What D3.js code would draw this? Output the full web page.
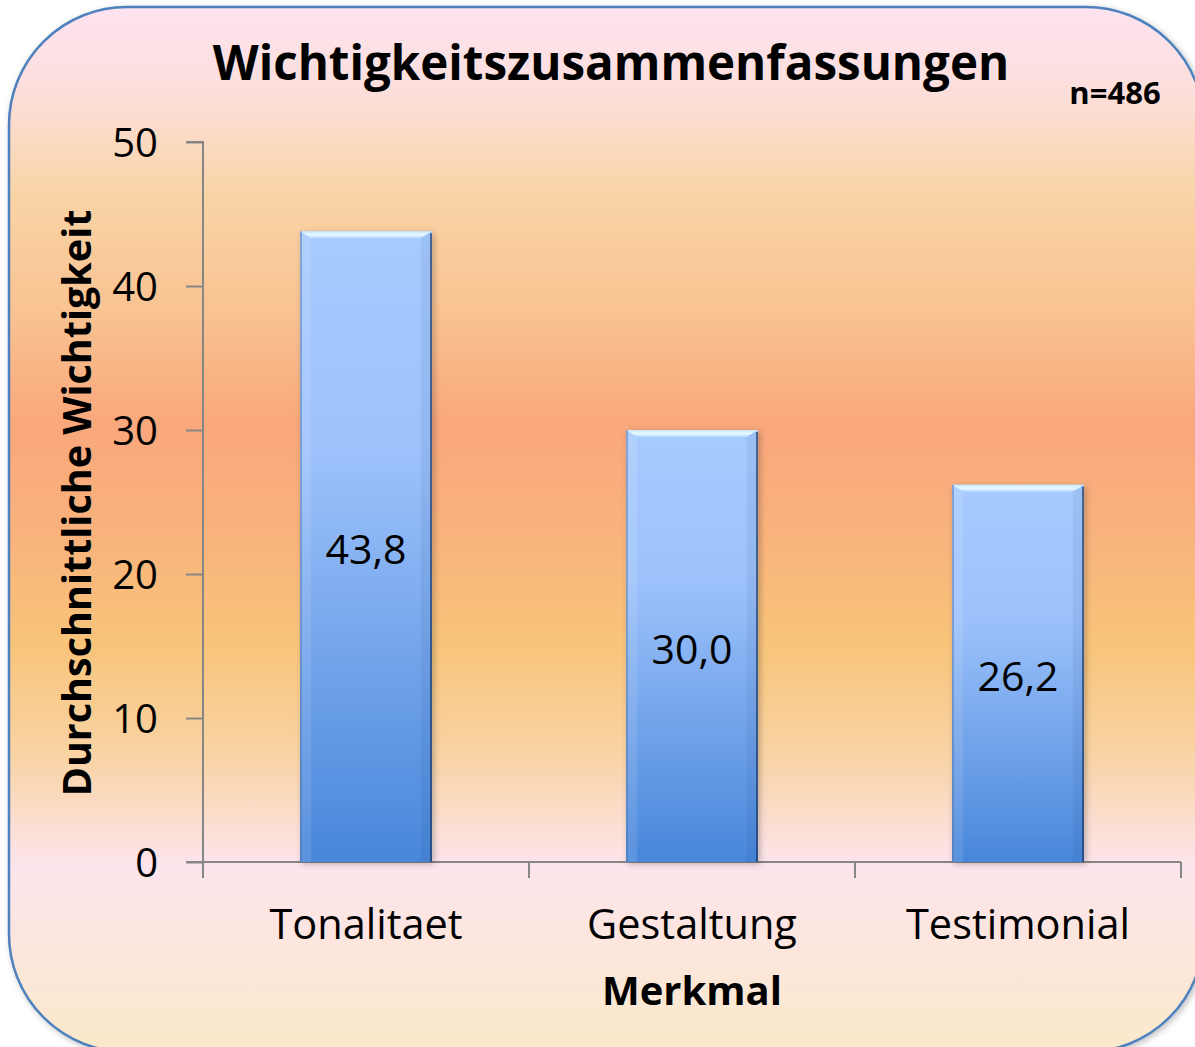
<!DOCTYPE html>
<html>
<head>
<meta charset="utf-8">
<script src="https://cdn.jsdelivr.net/npm/d3@7"></script>
<style>
  html, body { margin: 0; padding: 0; background: #ffffff; }
  svg { display: block; }
  text { font-family: "Open Sans", "Noto Sans", sans-serif; fill: #000; }
</style>
</head>
<body>
<svg id="chart" width="1195" height="1047"></svg>
<script>
// ---- data ----
const categories = ["Tonalitaet", "Gestaltung", "Testimonial"];
const values = [43.8, 30.0, 26.2];
const valueLabels = ["43,8", "30,0", "26,2"];
const yTicks = [0, 10, 20, 30, 40, 50];
const chartTitle = "Wichtigkeitszusammenfassungen";
const sampleNote = "n=486";
const yTitle = "Durchschnittliche Wichtigkeit";
const xTitle = "Merkmal";

const svg = d3.select("#chart");
const defs = svg.append("defs");

// background gradient
const bg = defs.append("linearGradient").attr("id", "bgGrad")
  .attr("x1", 0).attr("y1", 0).attr("x2", 0).attr("y2", 1);
[[0.0, "#fde3f0"], [0.08, "#fcdfdc"], [0.18, "#f9d4a6"], [0.30, "#f9c190"],
 [0.40, "#f9a77b"], [0.50, "#f9b27b"], [0.61, "#f8c47a"], [0.72, "#f9d4a6"],
 [0.82, "#fde4ec"], [1.0, "#fbe9ca"]]
  .forEach(([o, c]) => bg.append("stop").attr("offset", o).attr("stop-color", c));

// bar gradient
const bar = defs.append("linearGradient").attr("id", "barGrad")
  .attr("x1", 0).attr("y1", 0).attr("x2", 0).attr("y2", 1);
[[0, "#a7cbfe"], [0.35, "#9dc2fb"], [1, "#4886da"]]
  .forEach(([o, c]) => bar.append("stop").attr("offset", o).attr("stop-color", c));

const bevel = defs.append("linearGradient").attr("id", "bevelGrad")
  .attr("x1", 0).attr("y1", 0).attr("x2", 0).attr("y2", 1);
[[0, "#c8e6ff"], [0.5, "#e8fbff"], [1, "#b6d8ff"]]
  .forEach(([o, c]) => bevel.append("stop").attr("offset", o).attr("stop-color", c));

const shadow = defs.append("filter").attr("id", "shadow")
  .attr("x", "-10%").attr("y", "-10%").attr("width", "120%").attr("height", "120%");
shadow.append("feDropShadow").attr("dx", 2).attr("dy", 2).attr("stdDeviation", 3)
  .attr("flood-color", "#000").attr("flood-opacity", 0.25);

// rounded background frame
svg.append("rect")
  .attr("x", 9).attr("y", 7).attr("width", 1195).attr("height", 1045)
  .attr("rx", 118).attr("ry", 118)
  .attr("fill", "url(#bgGrad)")
  .attr("stroke", "#4f81bd").attr("stroke-width", 2.5)
  .attr("filter", "url(#shadow)");

// scales
const x = d3.scaleBand().domain(categories).range([203, 1181])
  .paddingInner(0.595).paddingOuter(0.2975);
const xCat = d3.scaleBand().domain(categories).range([203, 1181]).padding(0);
const y = d3.scaleLinear().domain([0, 50]).range([862, 142]);

// y axis
const yAxis = svg.append("g").attr("transform", "translate(203,0)")
  .call(d3.axisLeft(y).tickValues(yTicks).tickSize(17).tickPadding(28));
yAxis.select(".domain").attr("stroke", "#868686").attr("stroke-width", 2)
  .attr("d", `M-17,${y(50)}H0V${y(0)}`);
yAxis.selectAll(".tick line").attr("stroke", "#868686").attr("stroke-width", 2);
yAxis.selectAll(".tick text").attr("font-size", 40).attr("fill", "#000")
  .attr("font-family", "Open Sans").attr("dy", "0.36em");

// x axis
const xAxis = svg.append("g").attr("transform", `translate(0,${y(0)})`)
  .call(d3.axisBottom(xCat).tickSize(0).tickPadding(48));
xAxis.select(".domain").attr("stroke", "#868686").attr("stroke-width", 2)
  .attr("d", `M186,0H1181`);
xAxis.selectAll(".tick text").attr("font-size", 41.5).attr("fill", "#000")
  .attr("font-family", "Open Sans").attr("dy", "0.71em");
// category separator ticks
const sepPos = [203].concat(categories.map(c => xCat(c) + xCat.bandwidth()));
xAxis.selectAll("line.sep").data(sepPos).enter().append("line")
  .attr("class", "sep").attr("x1", d => d).attr("x2", d => d)
  .attr("y1", 0).attr("y2", 16).attr("stroke", "#868686").attr("stroke-width", 2);

// bars
const bars = svg.append("g").selectAll("g.bar").data(categories).enter()
  .append("g").attr("class", "bar");
bars.append("rect")
  .attr("x", d => x(d)).attr("width", x.bandwidth())
  .attr("y", (d, i) => y(values[i])).attr("height", (d, i) => y(0) - y(values[i]))
  .attr("fill", "url(#barGrad)")
  .attr("filter", "url(#shadow)");
// top bevel
const bv = 7;
bars.append("path")
  .attr("d", (d, i) => {
    const x0 = x(d), x1 = x(d) + x.bandwidth(), t = y(values[i]);
    return `M${x0},${t}H${x1}L${x1 - bv * 1.6},${t + bv}H${x0 + bv * 1.6}Z`;
  })
  .attr("fill", "url(#bevelGrad)");
// left highlight
bars.append("path")
  .attr("d", (d, i) => {
    const x0 = x(d), t = y(values[i]), b = y(0);
    return `M${x0},${t}L${x0 + bv * 1.6},${t + bv}V${b}H${x0}Z`;
  })
  .attr("fill", "#ffffff").attr("opacity", 0.1);
// right dark edge
bars.append("path")
  .attr("d", (d, i) => {
    const x1 = x(d) + x.bandwidth(), t = y(values[i]), b = y(0);
    return `M${x1},${t}L${x1 - bv * 1.6},${t + bv}V${b}H${x1}Z`;
  })
  .attr("fill", "#1f3f77").attr("opacity", 0.08);
bars.append("line")
  .attr("x1", d => x(d) + x.bandwidth() - 1).attr("x2", d => x(d) + x.bandwidth() - 1)
  .attr("y1", (d, i) => y(values[i]) + 2).attr("y2", y(0))
  .attr("stroke", "#203a66").attr("stroke-width", 2).attr("opacity", 0.7);
bars.append("line")
  .attr("x1", d => x(d) + 1).attr("x2", d => x(d) + 1)
  .attr("y1", (d, i) => y(values[i])).attr("y2", y(0))
  .attr("stroke", "#4a6fa5").attr("stroke-width", 1.5).attr("opacity", 0.6);
// value labels
bars.append("text")
  .attr("x", d => x(d) + x.bandwidth() / 2)
  .attr("y", (d, i) => (y(values[i]) + y(0)) / 2 + 3)
  .attr("dy", "0.36em")
  .attr("text-anchor", "middle").attr("font-size", 41)
  .text((d, i) => valueLabels[i]);

// titles
svg.append("text").attr("x", 611).attr("y", 80).attr("text-anchor", "middle")
  .attr("font-size", 47.5).attr("font-weight", "bold").text(chartTitle);
svg.append("text").attr("x", 1115).attr("y", 104).attr("text-anchor", "middle")
  .attr("font-size", 31).attr("font-weight", "bold").text(sampleNote);
svg.append("text").attr("transform", "translate(91,503) rotate(-90)")
  .attr("text-anchor", "middle").attr("font-size", 39.5).attr("font-weight", "bold")
  .text(yTitle);
svg.append("text").attr("x", 692).attr("y", 1005).attr("text-anchor", "middle")
  .attr("font-size", 40).attr("font-weight", "bold").text(xTitle);
</script>
</body>
</html>
